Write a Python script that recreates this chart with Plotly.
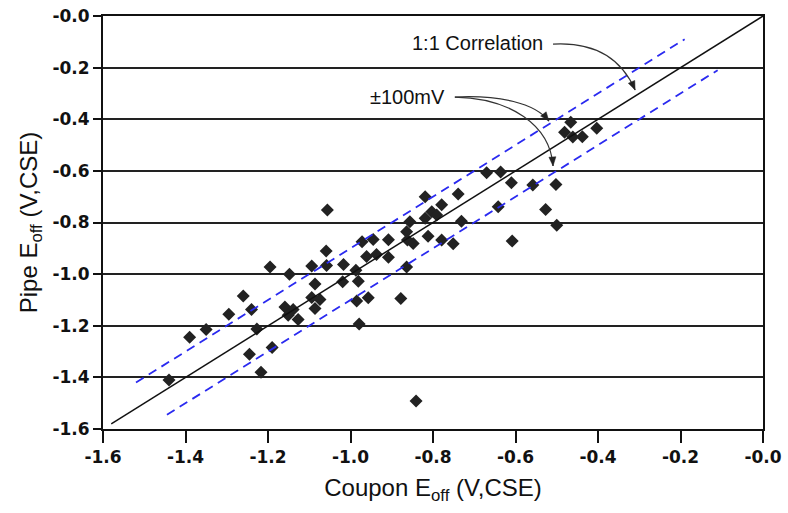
import math
import plotly.graph_objects as go

# Data: coupon vs pipe off-potentials (V, CSE)
coupon_eoff = [-1.44, -1.39, -1.35, -1.295, -1.26, -1.24, -1.245, -1.227, -1.217, -1.19,
               -1.195, -1.148, -1.159, -1.139, -1.151, -1.127, -1.094, -1.094, -1.074, -1.086,
               -1.086, -1.059, -1.058, -1.056, -1.017, -1.019, -0.987, -0.981, -0.985, -0.957,
               -0.979, -0.972, -0.961, -0.945, -0.937, -0.908, -0.908, -0.878, -0.864, -0.862,
               -0.864, -0.856, -0.848, -0.841, -0.819, -0.819, -0.803, -0.791, -0.779, -0.812,
               -0.779, -0.751, -0.731, -0.739, -0.670, -0.636, -0.610, -0.642, -0.608, -0.558,
               -0.502, -0.527, -0.500, -0.466, -0.481, -0.461, -0.438, -0.403]
pipe_eoff = [-1.41, -1.245, -1.215, -1.155, -1.085, -1.137, -1.31, -1.213, -1.38, -1.284,
             -0.972, -1.0, -1.127, -1.137, -1.159, -1.176, -0.969, -1.091, -1.098, -1.133,
             -1.038, -0.91, -0.967, -0.752, -0.963, -1.030, -0.985, -1.028, -1.104, -1.092,
             -1.193, -0.875, -0.932, -0.866, -0.924, -0.867, -0.935, -1.094, -0.972, -0.868,
             -0.836, -0.797, -0.881, -1.492, -0.700, -0.784, -0.758, -0.771, -0.731, -0.853,
             -0.868, -0.882, -0.795, -0.690, -0.607, -0.604, -0.646, -0.739, -0.872, -0.655,
             -0.653, -0.750, -0.811, -0.412, -0.450, -0.469, -0.468, -0.435]

# Reference lines
corr_x = [-1.58, 0.0]
corr_y = [-1.58, 0.0]
upper_x = [-1.52, -0.19]
lower_x = [-1.445, -0.11]
band = 0.1  # +/- 100 mV
upper_y = [v + band for v in upper_x]
lower_y = [v - band for v in lower_x]

tick_vals = [-1.6, -1.4, -1.2, -1.0, -0.8, -0.6, -0.4, -0.2, 0.0]
tick_text = ["-1.6", "-1.4", "-1.2", "-1.0", "-0.8", "-0.6", "-0.4", "-0.2", "-0.0"]

# Callout curves (cubic Bezier control points, data units)
curve_corr = [(-0.509, -0.109), (-0.419, -0.101), (-0.347, -0.151), (-0.310, -0.287)]
curve_up = [(-0.747, -0.314), (-0.638, -0.306), (-0.553, -0.337), (-0.519, -0.407)]
curve_low = [(-0.747, -0.314), (-0.613, -0.318), (-0.516, -0.422), (-0.509, -0.581)]
label_corr = ("1:1 Correlation", -0.691, -0.105)
label_band = ("±100mV", -0.861, -0.314)

W, H = 788, 513
M = dict(l=103, r=25, t=16, b=84)
XR = [-1.6, 0.0]
YR = [-1.6, 0.0]
sx = (W - M["l"] - M["r"]) / (XR[1] - XR[0])   # px per data unit
sy = (H - M["t"] - M["b"]) / (YR[1] - YR[0])

fig = go.Figure()

fig.add_trace(go.Scatter(
    x=coupon_eoff, y=pipe_eoff, mode="markers",
    marker=dict(symbol="diamond", size=10, color="#222222", line=dict(width=0)),
    showlegend=False, cliponaxis=False))

fig.add_trace(go.Scatter(x=corr_x, y=corr_y, mode="lines",
                         line=dict(color="#111111", width=1.5), showlegend=False))
for xs, ys in ((upper_x, upper_y), (lower_x, lower_y)):
    fig.add_trace(go.Scatter(x=xs, y=ys, mode="lines",
                             line=dict(color="#2a2af0", width=1.8, dash="9px,6px"),
                             showlegend=False))

def bez_path(pts):
    (x0, y0), (x1, y1), (x2, y2), (x3, y3) = pts
    return f"M {x0},{y0} C {x1},{y1} {x2},{y2} {x3},{y3}"

def head_path(pts, length=9.0, half=3.5):
    (x2, y2), (x3, y3) = pts[2], pts[3]
    dx = (x3 - x2) * sx
    dy = -(y3 - y2) * sy
    n = math.hypot(dx, dy)
    ux, uy = dx / n, dy / n
    bx, by = -ux * length, -uy * length
    px, py = -uy * half, ux * half
    corners = [(0, 0), (bx + px, by + py), (bx - px, by - py)]
    d = [(x3 + cx / sx, y3 - cy / sy) for cx, cy in corners]
    return "M {},{} L {},{} L {},{} Z".format(*[v for p in d for v in p])

for pts in (curve_corr, curve_up, curve_low):
    fig.add_shape(type="path", path=bez_path(pts), xref="x", yref="y",
                  line=dict(color="#333333", width=1.2))
    fig.add_shape(type="path", path=head_path(pts), xref="x", yref="y",
                  line=dict(color="#222222", width=0.5), fillcolor="#222222")

for txt, lx, ly in (label_corr, label_band):
    fig.add_annotation(x=lx, y=ly, xref="x", yref="y", text=txt, showarrow=False,
                       font=dict(family="Liberation Sans, Arial", size=20, color="#111111"),
                       xanchor="center", yanchor="middle")

axis_common = dict(
    tickvals=tick_vals, ticktext=tick_text, automargin=False, ticklabeloverflow="allow",
    showline=True, linecolor="#111111", linewidth=2, mirror=True,
    ticks="outside", tickcolor="#111111", tickwidth=1.5, zeroline=False,
    tickfont=dict(family="DejaVu Sans", size=17, color="#111111", weight="bold"),
    title_font=dict(family="Liberation Sans, Arial", size=24, color="#111111"),
)

fig.update_xaxes(**axis_common, range=XR, ticklen=12, showgrid=False,
                 title_text="Coupon E<sub>off</sub> (V,CSE)", title_standoff=13)
fig.update_yaxes(**axis_common, range=YR, ticklen=8, showgrid=True, gridcolor="#222222",
                 gridwidth=1.6, title_text="Pipe E<sub>off</sub> (V,CSE)", title_standoff=8)

fig.update_layout(
    width=W, height=H, margin=M,
    paper_bgcolor="white", plot_bgcolor="white",
    showlegend=False,
)

# remove the default 8px page margin so the figure fills the window exactly
fig.write_html("out.html", config={"displayModeBar": False},
               post_script="document.body.style.margin='0';")
